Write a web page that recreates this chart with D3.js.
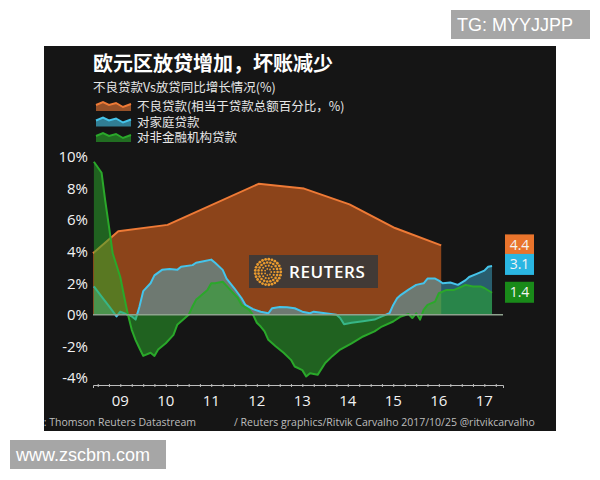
<!DOCTYPE html>
<html>
<head>
<meta charset="utf-8">
<script src="https://cdn.jsdelivr.net/npm/d3@7"></script>
<style>
    body { margin: 0; background: #fff; }
    svg text { font-family: "Open Sans", "Noto Sans CJK SC", sans-serif; }
</style>
</head>
<body>
<script>
// chart data
const yearLabels = ["09", "10", "11", "12", "13", "14", "15", "16", "17"];
const yTicks = [-4, -2, 0, 2, 4, 6, 8, 10];

const nplDates = ["2008-11-24", "2009-06-15", "2010-07-15", "2012-07-15", "2013-07-15", "2014-07-15", "2015-07-15", "2016-07-20"];
const nplValues = [3.9, 5.3, 5.7, 8.3, 8.0, 7.0, 5.5, 4.4];

const householdDates = ["2008-12", "2009-02", "2009-04", "2009-06", "2009-07", "2009-08", "2009-10", "2009-11", "2009-12",
    "2010-01", "2010-03", "2010-04", "2010-06", "2010-08", "2010-10", "2010-11", "2011-02", "2011-03", "2011-05", "2011-07",
    "2011-08", "2011-10", "2011-11", "2012-01", "2012-03", "2012-04", "2012-06", "2012-08", "2012-10", "2012-11", "2013-01",
    "2013-03", "2013-05", "2013-07", "2013-09", "2013-10", "2014-01", "2014-04", "2014-05", "2014-06", "2014-08", "2014-11",
    "2015-02", "2015-04", "2015-06", "2015-07", "2015-08", "2015-09", "2015-11", "2016-01", "2016-03", "2016-04", "2016-06",
    "2016-07", "2016-08", "2016-10", "2016-12", "2017-02", "2017-03", "2017-05", "2017-07", "2017-08", "2017-09"];
const householdValues = [1.8, 1.15, 0.55, -0.1, 0.2, 0.1, -0.1, -0.3, 0.5,
    1.5, 2.0, 2.5, 2.85, 2.9, 2.85, 3.05, 3.15, 3.3, 3.4, 3.5,
    3.3, 2.85, 2.3, 1.7, 1.05, 0.63, 0.36, 0.2, 0.1, 0.42, 0.5,
    0.48, 0.42, 0.2, 0.1, 0.2, 0.1, 0.0, -0.2, -0.6, -0.5, -0.4,
    -0.3, -0.1, 0.1, 0.63, 1.05, 1.27, 1.6, 1.9, 2.0, 2.3, 2.3,
    2.17, 2.0, 2.05, 1.9, 2.2, 2.4, 2.6, 2.8, 3.05, 3.1];

const corpDates = ["2008-12", "2009-02", "2009-03", "2009-04", "2009-05", "2009-07", "2009-08", "2009-09", "2009-10",
    "2009-11", "2009-12", "2010-01", "2010-03", "2010-04", "2010-05", "2010-07", "2010-09", "2010-10", "2011-01", "2011-02",
    "2011-03", "2011-04", "2011-06", "2011-07", "2011-08", "2011-10", "2011-12", "2012-02", "2012-03", "2012-05", "2012-06",
    "2012-07", "2012-08", "2012-09", "2012-10", "2012-12", "2013-02", "2013-04", "2013-05", "2013-07", "2013-08", "2013-09",
    "2013-11", "2014-01", "2014-03", "2014-05", "2014-08", "2014-11", "2015-02", "2015-04", "2015-07", "2015-09", "2015-11",
    "2015-12", "2016-01", "2016-02", "2016-03", "2016-04", "2016-06", "2016-07", "2016-09", "2016-11", "2017-01", "2017-02",
    "2017-04", "2017-06", "2017-07", "2017-09"];
const corpValues = [9.7, 9.0, 7.3, 5.6, 3.9, 2.4, 1.16, 0.0, -0.95,
    -1.6, -2.1, -2.6, -2.4, -2.6, -2.2, -1.8, -1.27, -0.63, 0.0, 0.53,
    0.95, 1.16, 1.58, 2.0, 2.0, 2.1, 1.58, 1.05, 0.63, 0.32, 0.0,
    -0.5, -0.74, -1.05, -1.58, -2.0, -2.4, -2.85, -3.27, -3.5, -3.9, -3.7,
    -3.8, -3.05, -2.6, -2.2, -1.8, -1.37, -1.05, -0.74, -0.42, -0.1, 0.05,
    -0.2, 0.1, -0.3, 0.32, 0.63, 0.84, 1.37, 1.58, 1.58, 1.79, 1.9,
    1.8, 1.8, 1.7, 1.4];

const seriesNames = ["不良贷款(相当于贷款总额百分比，%)", "对家庭贷款", "对非金融机构贷款"];
const seriesColors = ["#ee7a36", "#45c4ea", "#2aa82a"];
const fillColors = ["#e3681f", "#45c4ea", "#2aa82a"];
const boxColors = ["#e9742c", "#2ab6e2", "#198a19"];

let parse = s => s.length > 7 ? d3.timeParse("%Y-%m-%d")(s) : d3.timeParse("%Y-%m")(s);
let zip = (ds, vs) => ds.map((d, i) => ({date: parse(d), value: vs[i]}));

let series = [
    {name: seriesNames[0], data: zip(nplDates, nplValues), color: seriesColors[0], fillColor: fillColors[0], fill: 0.58},
    {name: seriesNames[1], data: zip(householdDates, householdValues), color: seriesColors[1], fillColor: fillColors[1], fill: 0.42},
    {name: seriesNames[2], data: zip(corpDates, corpValues), color: seriesColors[2], fillColor: fillColors[2], fill: 0.52}
];

let width = 600, height = 480;
let svg = d3.select("body").append("svg")
    .attr("width", width)
    .attr("height", height);

// dark panel
svg.append("defs").append("clipPath").attr("id", "panel")
    .append("rect").attr("x", 44).attr("y", 47).attr("width", 512).attr("height", 384);
svg.append("rect")
    .attr("x", 44).attr("y", 46)
    .attr("width", 512).attr("height", 385)
    .attr("fill", "#151515");

let g = svg.append("g").attr("clip-path", "url(#panel)");

let x = d3.scaleTime()
    .domain([new Date(2008, 10, 24), new Date(2017, 10, 28)])
    .range([93, 503]);
let y = d3.scaleLinear()
    .domain([-4, 10])
    .range([378, 157]);

// titles
g.append("text")
    .attr("x", 93).attr("y", 71)
    .attr("fill", "#fff")
    .style("font-family", "'Noto Sans CJK SC', sans-serif")
    .style("font-size", "20px")
    .style("font-weight", "bold")
    .text("欧元区放贷增加，坏账减少");
g.append("text")
    .attr("x", 93).attr("y", 92)
    .attr("fill", "#e6e6e6")
    .style("font-family", "'Noto Sans CJK SC', sans-serif")
    .style("font-size", "12.5px")
    .text("不良贷款Vs放贷同比增长情况(%)");

// legend with little wave swatches
let swatch = [[0, 4], [7, 1], [13, 4], [20, 2], [27, 6], [35, 3]];
let legend = g.append("g").selectAll("g")
    .data(series)
    .enter().append("g")
    .attr("transform", (d, i) => `translate(96,${101 + i * 15.5})`);
legend.append("path")
    .attr("d", d3.area().x(p => p[0]).y0(10).y1(p => p[1])(swatch))
    .attr("fill", d => d.color)
    .attr("fill-opacity", 0.6);
legend.append("path")
    .attr("d", d3.line()(swatch))
    .attr("fill", "none")
    .attr("stroke", d => d.color)
    .attr("stroke-width", 2);
legend.append("text")
    .attr("x", 41).attr("y", 6)
    .attr("dy", "0.35em")
    .attr("fill", "#e6e6e6")
    .style("font-family", "'Noto Sans CJK SC', sans-serif")
    .style("font-size", "12.5px")
    .text(d => d.name);

// y axis labels
let yAxis = g.append("g")
    .attr("transform", "translate(88,0)")
    .call(d3.axisLeft(y).tickValues(yTicks).tickSize(0).tickPadding(0).tickFormat(d => d + "%"));
yAxis.select(".domain").remove();
yAxis.selectAll("text")
    .attr("fill", "#f2f2f2")
    .style("font-size", "15px");

// x axis, quarterly ticks
let xAxis = g.append("g")
    .attr("transform", "translate(0,385)")
    .call(d3.axisBottom(x).ticks(d3.timeMonth.every(3)).tickSize(3).tickFormat(""));
xAxis.select(".domain").attr("stroke", "#bdbdbd").attr("stroke-width", 1);
xAxis.selectAll(".tick line").attr("stroke", "#bdbdbd").attr("transform", "translate(0,-1)");

g.append("g").selectAll("text")
    .data(yearLabels)
    .enter().append("text")
    .attr("x", d => x(new Date(2000 + (+d), 6, 1)))
    .attr("y", 401)
    .attr("dy", "0.35em")
    .attr("text-anchor", "middle")
    .attr("fill", "#f2f2f2")
    .style("font-size", "15px")
    .text(d => d);

// areas and lines
let area = d3.area().x(d => x(d.date)).y0(y(0)).y1(d => y(d.value));
let line = d3.line().x(d => x(d.date)).y(d => y(d.value));

let plots = g.append("g").selectAll("g")
    .data(series)
    .enter().append("g");
plots.append("path")
    .attr("d", d => area(d.data))
    .attr("fill", d => d.fillColor)
    .attr("fill-opacity", d => d.fill);
plots.append("path")
    .attr("d", d => line(d.data))
    .attr("fill", "none")
    .attr("stroke", d => d.color)
    .attr("stroke-width", 2)
    .attr("stroke-linejoin", "round");

// zero line
g.append("line")
    .attr("x1", x.range()[0]).attr("x2", x.range()[1])
    .attr("y1", y(0)).attr("y2", y(0))
    .attr("stroke", "#8fa38f")
    .attr("stroke-width", 1.5);

// Reuters watermark
let logo = g.append("g");
logo.append("rect")
    .attr("x", 249).attr("y", 255)
    .attr("width", 129).attr("height", 33)
    .attr("fill", "#3a3a3a")
    .attr("fill-opacity", 0.9);
let rings = [[3.2, 7, 0.9], [6.4, 13, 1.1], [9.6, 19, 1.3], [12.8, 25, 1.4]];
for (let [r, n, dr] of rings) {
    logo.append("g").selectAll("circle")
        .data(d3.range(n))
        .enter().append("circle")
        .attr("cx", i => 268 + r * Math.cos(i * 2 * Math.PI / n))
        .attr("cy", i => 272 + r * Math.sin(i * 2 * Math.PI / n))
        .attr("r", dr)
        .attr("fill", "#eb9b2e");
}
logo.append("text")
    .attr("x", 289).attr("y", 278)
    .attr("fill", "#fff")
    .style("font-size", "17px")
    .style("font-weight", "600")
    .style("letter-spacing", "0.6px")
    .text("REUTERS");

// latest value boxes
let boxes = g.append("g").selectAll("g")
    .data(series)
    .enter().append("g")
    .attr("transform", (d, i) => {
        let last = d.data[d.data.length - 1];
        return `translate(505,${y(last.value) - 11 - (i === 1 ? 1 : 0)})`;
    });
boxes.append("rect")
    .attr("width", 29).attr("height", 21)
    .attr("fill", (d, i) => boxColors[i]);
boxes.append("text")
    .attr("x", 14.5).attr("y", 10.5)
    .attr("dy", "0.36em")
    .attr("text-anchor", "middle")
    .attr("fill", "#f4f4f4")
    .style("font-size", "14px")
    .text(d => d.data[d.data.length - 1].value.toFixed(1));

// source line
g.append("text")
    .attr("x", 196).attr("y", 426)
    .attr("text-anchor", "end")
    .attr("fill", "#bdbdbd")
    .style("font-size", "10.5px")
    .text("Source: Thomson Reuters Datastream");
g.append("text")
    .attr("x", 234).attr("y", 426)
    .attr("fill", "#bdbdbd")
    .style("font-size", "10.5px")
    .text("/ Reuters graphics/Ritvik Carvalho 2017/10/25 @ritvikcarvalho");

// site watermarks
let marks = [["TG: MYYJJPP", 451, 10, 139], ["www.zscbm.com", 10, 440, 156]];
for (let [t, mx, my, mw] of marks) {
    svg.append("rect")
        .attr("x", mx).attr("y", my)
        .attr("width", mw).attr("height", 29)
        .attr("fill", "#a6a6a6");
    svg.append("text")
        .attr("x", mx + 6).attr("y", my + 21)
        .attr("fill", "#fff")
        .style("font-family", "'Liberation Sans', Arial, sans-serif")
        .style("font-size", "18px")
        .text(t);
}
</script>
</body>
</html>
